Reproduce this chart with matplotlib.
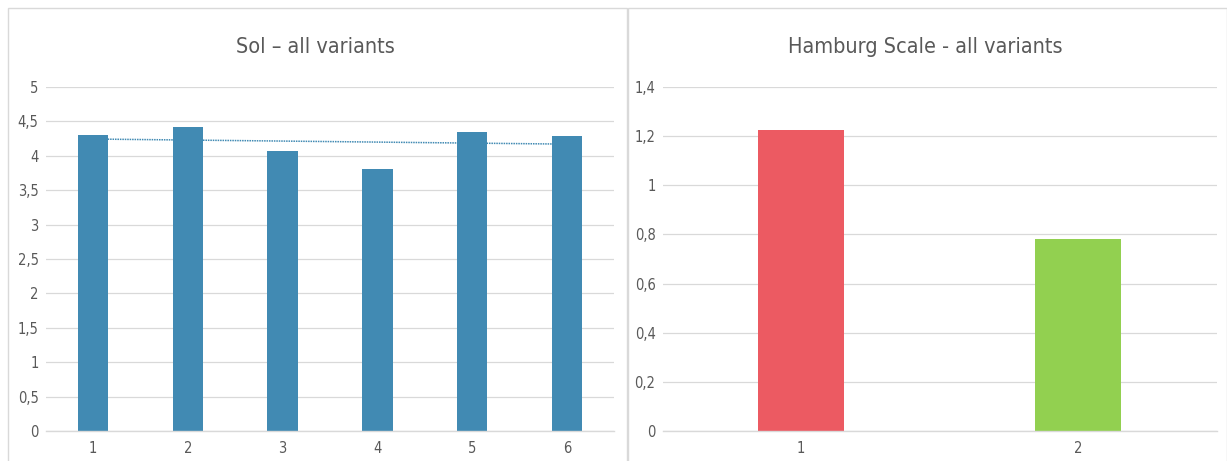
import numpy as np
import matplotlib
matplotlib.use("Agg")
import matplotlib.pyplot as plt
from matplotlib.patches import Rectangle
from matplotlib.ticker import FuncFormatter, MultipleLocator

sol_labels = ["1", "2", "3", "4", "5", "6"]
sol_values = [4.30, 4.42, 4.07, 3.81, 4.35, 4.29]

hamburg_labels = ["1", "2"]
hamburg_values = [1.225, 0.781]
hamburg_colors = ["#EC5A62", "#92D050"]

TEXT = "#595959"
GRID = "#D9D9D9"

W, H = 1227, 461
fig = plt.figure(figsize=(W / 100, H / 100), dpi=100)

# panel frames
for x0, x1 in [(8, 627), (628, 1227)]:
    fig.patches.append(Rectangle((x0 / W, -0.01), (x1 - x0) / W, (H - 8) / H + 0.01,
                                 transform=fig.transFigure, fill=False,
                                 edgecolor="#D9D9D9", linewidth=1.0))


def comma(v, pos):
    s = ("%g" % round(v, 2)).replace(".", ",")
    return s


def style(ax, step, top):
    ax.set_ylim(0, top)
    ax.yaxis.set_major_locator(MultipleLocator(step))
    ax.yaxis.set_major_formatter(FuncFormatter(comma))
    ax.grid(axis="y", color=GRID, linewidth=0.9)
    ax.set_axisbelow(True)
    for s in ["top", "right", "left"]:
        ax.spines[s].set_visible(False)
    ax.spines["bottom"].set_color(GRID)
    ax.spines["bottom"].set_linewidth(1.0)
    ax.tick_params(axis="both", length=0, colors=TEXT, labelsize=10.5)
    ax.tick_params(axis="x", pad=7)
    ax.tick_params(axis="y", pad=5)
    for lab in ax.get_xticklabels() + ax.get_yticklabels():
        lab.set_fontstretch("condensed")


# left: Sol
ax1 = fig.add_axes([45.6 / W, 30 / H, 568.8 / W, 344 / H])
x = np.arange(1, len(sol_values) + 1)
ax1.bar(x, sol_values, width=0.32, color="#418AB3", zorder=2)
k, b = np.polyfit(x, sol_values, 1)
ax1.plot([x[0], x[-1]], [k * x[0] + b, k * x[-1] + b], linestyle=(0, (1, 0.6)),
         color="#418AB3", linewidth=1.1, zorder=3)
ax1.set_xlim(0.5, len(sol_values) + 0.5)
ax1.set_xticks(x)
ax1.set_xticklabels(sol_labels)
style(ax1, 0.5, 5)
fig.text(315 / W, 1 - 47 / H, "Sol \u2013 all variants", ha="center", va="center",
         fontsize=15.5, color=TEXT, fontstretch="condensed")

# right: Hamburg Scale
ax2 = fig.add_axes([662.5 / W, 30 / H, 554 / W, 344 / H])
x2 = np.arange(1, len(hamburg_values) + 1)
ax2.bar(x2, hamburg_values, width=0.314, color=hamburg_colors, zorder=2)
ax2.set_xlim(0.5, len(hamburg_values) + 0.5)
ax2.set_xticks(x2)
ax2.set_xticklabels(hamburg_labels)
style(ax2, 0.2, 1.4)
fig.text(925 / W, 1 - 47 / H, "Hamburg Scale - all variants", ha="center", va="center",
         fontsize=15.5, color=TEXT, fontstretch="condensed")

fig.savefig("out.png", dpi=100)
